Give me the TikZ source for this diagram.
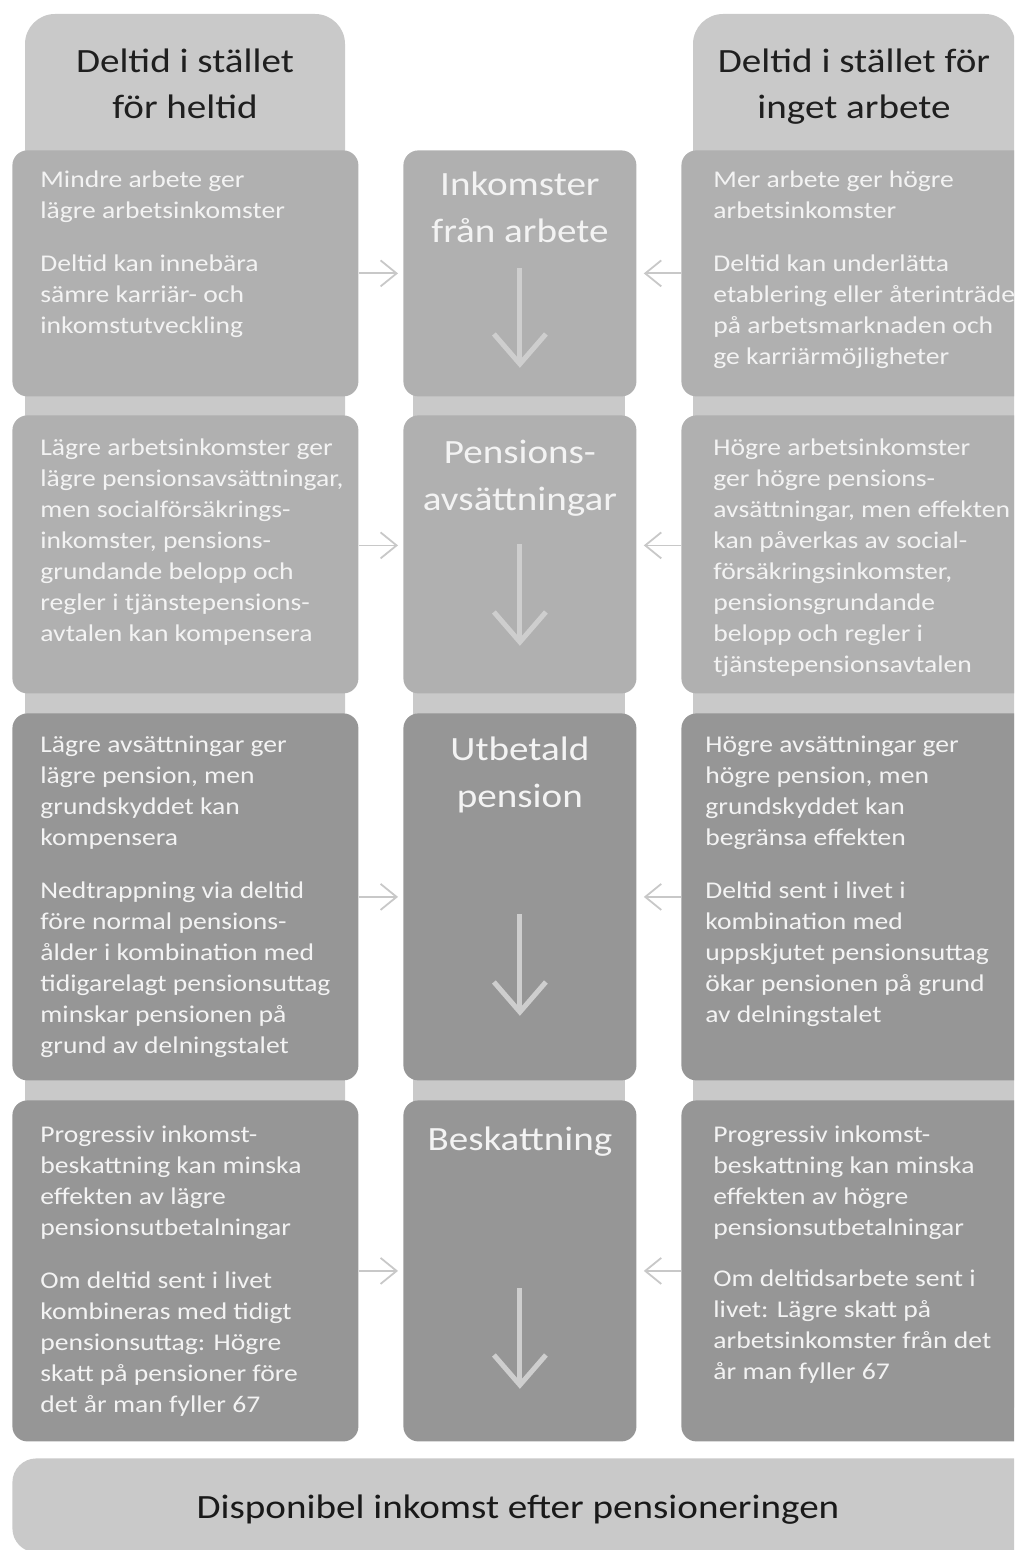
\documentclass[tikz,border=0pt]{standalone}
\usepackage{fontspec}
\setmainfont{Carlito}[FakeStretch=1.15]
\usetikzlibrary{arrows.meta,positioning}

\definecolor{headgray}{RGB}{201,201,201}
\definecolor{upgray}{RGB}{176,176,176}
\definecolor{lowgray}{RGB}{150,150,150}
\definecolor{txtwhite}{RGB}{243,243,243}
\definecolor{arrgray}{RGB}{200,200,200}
\definecolor{downgray}{RGB}{206,206,206}

% struts fixing the top of the first line
\newcommand{\tstrut}{\rule{0pt}{11pt}}
\newcommand{\hstrut}{\rule{0pt}{16pt}}

\begin{document}
\begin{tikzpicture}[x=1pt,y=-1pt,
  colbg/.style={fill=headgray,rounded corners=15pt},
  box/.style={rounded corners=7.5pt,inner sep=0pt,anchor=north west},
  upbox/.style={box,fill=upgray},
  lowbox/.style={box,fill=lowgray},
  side/.style={font=\fontsize{12}{15.5}\selectfont,text=txtwhite,align=left,anchor=north west,inner sep=0pt},
  mid/.style={font=\fontsize{17}{23.5}\selectfont,text=txtwhite,align=center,anchor=north,inner sep=0pt},
  head/.style={font=\fontsize{17}{23}\selectfont,text=black!88,align=center,anchor=north,inner sep=0pt},
  sidearr/.style={draw=arrgray,line width=0.9pt,-{Straight Barb[length=8pt,width=13pt]}},
  downarr/.style={draw=downgray,line width=2.5pt,-{Straight Barb[length=15pt,width=26pt]}}]

\clip (0,0) rectangle (507,775);

% column backgrounds
\fill[colbg] (12.5,7) rectangle (172.5,715);
\fill[colbg] (346.5,7) rectangle (507.5,715);
\fill[headgray] (206.5,90) rectangle (312.5,715);

\node[head] (hleft) at (92.5,20) {\hstrut Deltid i stället\\för heltid};
\node[head] (hright) at (427,20) {\hstrut Deltid i stället för\\inget arbete};

% left column
\node[upbox,minimum width=173pt,minimum height=123pt] (l1) at (6,75) {};
\node[upbox,minimum width=173pt,minimum height=139pt] (l2) at (6,207.5) {};
\node[lowbox,minimum width=173pt,minimum height=183.5pt] (l3) at (6,356.5) {};
\node[lowbox,minimum width=173pt,minimum height=170.5pt] (l4) at (6,550) {};

% middle column
\node[upbox,minimum width=116.5pt,minimum height=123pt] (m1) at (201.5,75) {};
\node[upbox,minimum width=116.5pt,minimum height=139pt] (m2) at (201.5,207.5) {};
\node[lowbox,minimum width=116.5pt,minimum height=183.5pt] (m3) at (201.5,356.5) {};
\node[lowbox,minimum width=116.5pt,minimum height=170.5pt] (m4) at (201.5,550) {};

% right column
\node[upbox,minimum width=180pt,minimum height=123pt] (r1) at (340.5,75) {};
\node[upbox,minimum width=180pt,minimum height=139pt] (r2) at (340.5,207.5) {};
\node[lowbox,minimum width=180pt,minimum height=183.5pt] (r3) at (340.5,356.5) {};
\node[lowbox,minimum width=180pt,minimum height=170.5pt] (r4) at (340.5,550) {};

\node[box,fill=headgray,rounded corners=12pt,minimum width=520pt,minimum height=47pt] (disp) at (6,729) {};
\node[head,anchor=base,text=black!90] (disptxt) at (259,759) {Disponibel inkomst efter pensioneringen};

% texts
\node[side] (lt1) at ([xshift=14pt,yshift=-7.5pt]l1.north west) {\tstrut Mindre arbete ger\\lägre arbetsinkomster\\[11pt]Deltid kan innebära\\sämre karriär- och\\inkomstutveckling};
\node[side] (lt2) at ([xshift=14pt,yshift=-9pt]l2.north west) {\tstrut Lägre arbetsinkomster ger\\lägre pensionsavsättningar,\\men socialförsäkrings-\\inkomster, pensions-\\grundande belopp och\\regler i tjänstepensions-\\avtalen kan kompensera};
\node[side] (lt3) at ([xshift=14pt,yshift=-8.5pt]l3.north west) {\tstrut Lägre avsättningar ger\\lägre pension, men\\grundskyddet kan\\kompensera\\[11pt]Nedtrappning via deltid\\före normal pensions-\\ålder i kombination med\\tidigarelagt pensionsuttag\\minskar pensionen på\\grund av delningstalet};
\node[side] (lt4) at ([xshift=14pt,yshift=-10pt]l4.north west) {\tstrut Progressiv inkomst-\\beskattning kan minska\\effekten av lägre\\pensionsutbetalningar\\[11pt]Om deltid sent i livet\\kombineras med tidigt\\pensionsuttag: Högre\\skatt på pensioner före\\det år man fyller 67};

\node[side] (rt1) at ([xshift=16pt,yshift=-7.5pt]r1.north west) {\tstrut Mer arbete ger högre\\arbetsinkomster\\[11pt]Deltid kan underlätta\\etablering eller återinträde\\på arbetsmarknaden och\\ge karriärmöjligheter};
\node[side] (rt2) at ([xshift=16pt,yshift=-9pt]r2.north west) {\tstrut Högre arbetsinkomster\\ger högre pensions-\\avsättningar, men effekten\\kan påverkas av social-\\försäkringsinkomster,\\pensionsgrundande\\belopp och regler i\\tjänstepensionsavtalen};
\node[side] (rt3) at ([xshift=12pt,yshift=-8.5pt]r3.north west) {\tstrut Högre avsättningar ger\\högre pension, men\\grundskyddet kan\\begränsa effekten\\[11pt]Deltid sent i livet i\\kombination med\\uppskjutet pensionsuttag\\ökar pensionen på grund\\av delningstalet};
\node[side] (rt4) at ([xshift=16pt,yshift=-10pt]r4.north west) {\tstrut Progressiv inkomst-\\beskattning kan minska\\effekten av högre\\pensionsutbetalningar\\[10pt]Om deltidsarbete sent i\\livet: Lägre skatt på\\arbetsinkomster från det\\år man fyller 67};

\node[mid] (mt1) at ([yshift=-6.5pt]m1.north) {\hstrut Inkomster\\från arbete};
\node[mid] (mt2) at ([yshift=-8pt]m2.north) {\hstrut Pensions-\\avsättningar};
\node[mid] (mt3) at ([yshift=-7.5pt]m3.north) {\hstrut Utbetald\\pension};
\node[mid] (mt4) at ([yshift=-9pt]m4.north) {\hstrut Beskattning};

% arrows
\draw[sidearr,shorten >=2.5pt] (l1.east) -- (m1.west);
\draw[sidearr,shorten >=2.5pt] ([yshift=4.5pt]l2.east) -- ([yshift=4.5pt]m2.west);
\draw[sidearr,shorten >=2.5pt] (l3.east) -- (m3.west);
\draw[sidearr,shorten >=2.5pt] (l4.east) -- (m4.west);
\draw[sidearr,shorten >=3.5pt] (r1.west) -- (m1.east);
\draw[sidearr,shorten >=3.5pt] ([yshift=4.5pt]r2.west) -- ([yshift=4.5pt]m2.east);
\draw[sidearr,shorten >=3.5pt] (r3.west) -- (m3.east);
\draw[sidearr,shorten >=3.5pt] (r4.west) -- (m4.east);

\draw[downarr] ([yshift=64.5pt]m1.south) -- ([yshift=14.5pt]m1.south);
\draw[downarr] ([yshift=75pt]m2.south) -- ([yshift=24pt]m2.south);
\draw[downarr] ([yshift=83.5pt]m3.south) -- ([yshift=32.5pt]m3.south);
\draw[downarr] ([yshift=77pt]m4.south) -- ([yshift=26.5pt]m4.south);

\end{tikzpicture}
\end{document}
